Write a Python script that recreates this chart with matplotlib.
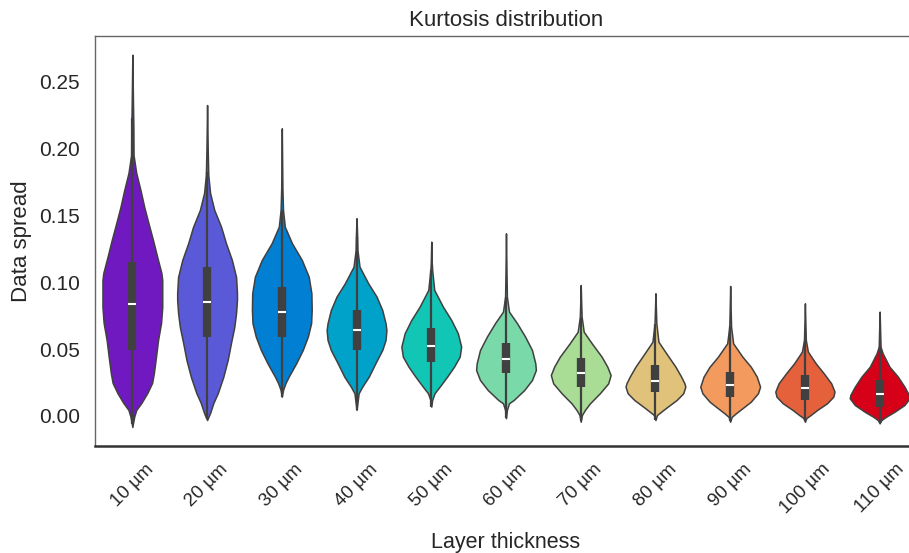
import matplotlib.pyplot as plt

# Layer thickness groups and their fill colours
thickness = ['10 µm', '20 µm', '30 µm', '40 µm', '50 µm', '60 µm',
             '70 µm', '80 µm', '90 µm', '100 µm', '110 µm']
colors = ['#7119c0', '#5a5ad9', '#007fd3', '#00a2c9', '#12c6b6', '#79d9a8',
          '#a9dc95', '#e1c27a', '#f39a5e', '#e5613c', '#d60019']

# Box statistics per group
q1 = [0.0493, 0.0593, 0.0593, 0.0493, 0.0406, 0.0319, 0.0219, 0.0182, 0.0144, 0.0120, 0.0070]
median = [0.0835, 0.0854, 0.0777, 0.0640, 0.0526, 0.0426, 0.0319, 0.0262, 0.0232, 0.0207, 0.0164]
q3 = [0.1153, 0.1116, 0.0966, 0.0792, 0.0655, 0.0543, 0.0431, 0.0381, 0.0331, 0.0306, 0.0269]
whisk_lo = [-0.006, -0.002, 0.0144, 0.0045, 0.0070, -0.0017, -0.0040, -0.0030, -0.0040, -0.0040, -0.0050]
whisk_hi = [0.223, 0.182, 0.154, 0.134, 0.109, 0.089, 0.074, 0.069, 0.067, 0.057, 0.052]

# Violin outlines: (data spread, relative half-width), top tip to bottom tip
shape_10 = [(0.270, 0), (0.235, 0.02), (0.215, 0.035), (0.195, 0.04), (0.1816, 0.13),
            (0.169, 0.27), (0.156, 0.40), (0.144, 0.54), (0.1315, 0.69), (0.119, 0.83),
            (0.107, 0.97), (0.1016, 1.0), (0.0815, 1.0), (0.0695, 0.96), (0.0568, 0.86),
            (0.0441, 0.79), (0.0321, 0.72), (0.0247, 0.66), (0.0172, 0.50), (0.0097, 0.30),
            (0.0045, 0.13), (-0.0007, 0.06), (-0.0082, 0)]
shape_20 = [(0.2324, 0), (0.20, 0.02), (0.18, 0.04), (0.1667, 0.10), (0.154, 0.24),
            (0.1413, 0.47), (0.1293, 0.63), (0.1166, 0.83), (0.1039, 0.97), (0.0919, 1.0),
            (0.0867, 1.0), (0.0770, 0.97), (0.0665, 0.91), (0.0546, 0.80), (0.0419, 0.69),
            (0.0291, 0.54), (0.0172, 0.36), (0.0097, 0.21), (0.0022, 0.10), (-0.003, 0)]
shape_30 = [(0.215, 0), (0.17, 0.02), (0.154, 0.04), (0.1415, 0.10), (0.1291, 0.34),
            (0.1166, 0.67), (0.1041, 0.90), (0.0917, 0.99), (0.0792, 1.0), (0.0693, 0.98),
            (0.0593, 0.87), (0.0493, 0.70), (0.0394, 0.48), (0.0294, 0.23), (0.0244, 0.12),
            (0.0194, 0.04), (0.0144, 0)]
shape_40 = [(0.1478, 0), (0.135, 0.02), (0.124, 0.03), (0.1116, 0.10), (0.0992, 0.39),
            (0.0892, 0.67), (0.0792, 0.86), (0.0693, 0.97), (0.0643, 1.0), (0.0568, 0.97),
            (0.0493, 0.86), (0.0394, 0.63), (0.0294, 0.41), (0.0219, 0.19), (0.017, 0.07),
            (0.0045, 0)]
shape_50 = [(0.1303, 0), (0.115, 0.015), (0.1091, 0.03), (0.0942, 0.10), (0.0817, 0.39),
            (0.0717, 0.67), (0.0618, 0.89), (0.0518, 1.0), (0.0443, 0.95), (0.0368, 0.76),
            (0.0294, 0.53), (0.0219, 0.28), (0.017, 0.11), (0.012, 0.03), (0.007, 0)]
shape_60 = [(0.1365, 0), (0.11, 0.015), (0.0892, 0.03), (0.078, 0.10), (0.0693, 0.37),
            (0.0593, 0.64), (0.0493, 0.87), (0.0394, 0.98), (0.0344, 1.0), (0.0269, 0.87),
            (0.0194, 0.61), (0.012, 0.26), (0.0095, 0.10), (0.0045, 0.03), (-0.0017, 0)]
shape_70 = [(0.0979, 0), (0.085, 0.015), (0.0742, 0.03), (0.063, 0.10), (0.0543, 0.37),
            (0.0443, 0.70), (0.0368, 0.89), (0.0306, 1.0), (0.0244, 0.92), (0.017, 0.64),
            (0.0095, 0.31), (0.0045, 0.14), (0.0007, 0.04), (-0.0043, 0)]
shape_80 = [(0.0917, 0), (0.08, 0.015), (0.0693, 0.03), (0.0555, 0.10), (0.0469, 0.36),
            (0.0368, 0.67), (0.0294, 0.86), (0.0244, 0.97), (0.0219, 1.0), (0.017, 0.93),
            (0.012, 0.71), (0.007, 0.41), (0.0032, 0.19), (0.0007, 0.05), (-0.003, 0)]
shape_90 = [(0.0972, 0), (0.08, 0.015), (0.0667, 0.03), (0.0543, 0.10), (0.0443, 0.41),
            (0.0368, 0.69), (0.0294, 0.89), (0.0219, 1.0), (0.017, 0.93), (0.0107, 0.69),
            (0.0058, 0.41), (0.002, 0.19), (-0.0007, 0.05), (-0.0043, 0)]
shape_100 = [(0.0842, 0), (0.07, 0.015), (0.0568, 0.03), (0.0481, 0.10), (0.0394, 0.36),
             (0.0319, 0.63), (0.0244, 0.88), (0.0182, 0.99), (0.0144, 0.95), (0.0095, 0.74),
             (0.0045, 0.41), (0.0007, 0.19), (-0.0015, 0.05), (-0.0043, 0)]
shape_110 = [(0.078, 0), (0.065, 0.015), (0.0518, 0.03), (0.0469, 0.10), (0.0368, 0.33),
             (0.0294, 0.61), (0.0219, 0.83), (0.0157, 0.98), (0.0132, 1.0), (0.0082, 0.83),
             (0.0032, 0.50), (-0.0005, 0.22), (-0.003, 0.06), (-0.0055, 0)]
shapes = [shape_10, shape_20, shape_30, shape_40, shape_50, shape_60,
          shape_70, shape_80, shape_90, shape_100, shape_110]

plt.rcParams['font.family'] = ['Liberation Sans', 'DejaVu Sans']

fig = plt.figure(figsize=(9.09, 5.53), dpi=100)
ax = fig.add_axes([0.1045, 0.1926, 0.9043, 0.7423])

edge = '#404040'
half = 0.4  # half of the violin width in category units
for i, shp in enumerate(shapes):
    ys = [p[0] for p in shp]
    hw = [half * p[1] for p in shp]
    ax.fill_betweenx(ys, [i - h for h in hw], [i + h for h in hw],
                     facecolor=colors[i], edgecolor=edge, lw=1.1, zorder=2)
    ax.vlines(i, whisk_lo[i], whisk_hi[i], color=edge, lw=1.6, zorder=3)
    ax.vlines(i, q1[i], q3[i], color=edge, lw=6, zorder=3)
    ax.plot(i, median[i], marker='_', color='white', ms=6, mew=1.5, zorder=4)

ax.set_xlim(-0.5, 10.5)
ax.set_ylim(-0.0228, 0.284)
ax.set_xticks(range(len(thickness)))
ax.set_xticklabels(thickness, rotation=45)
ax.set_yticks([0.0, 0.05, 0.10, 0.15, 0.20, 0.25])
ax.set_yticklabels(['0.00', '0.05', '0.10', '0.15', '0.20', '0.25'])
ax.tick_params(axis='both', length=0, colors='#262626')
ax.tick_params(axis='x', pad=10, labelsize=13.5)
ax.tick_params(axis='y', pad=11, labelsize=15)

ax.set_title('Kurtosis distribution', fontsize=16, color='#262626', pad=7)
ax.set_xlabel('Layer thickness', fontsize=15.5, color='#262626', labelpad=11)
ax.set_ylabel('Data spread', fontsize=16, color='#262626', labelpad=5)

for side in ['left', 'top', 'right']:
    ax.spines[side].set_color('#666666')
    ax.spines[side].set_linewidth(1.0)
ax.spines['bottom'].set_color('#333333')
ax.spines['bottom'].set_linewidth(1.8)

fig.savefig('out.png', dpi=100)
